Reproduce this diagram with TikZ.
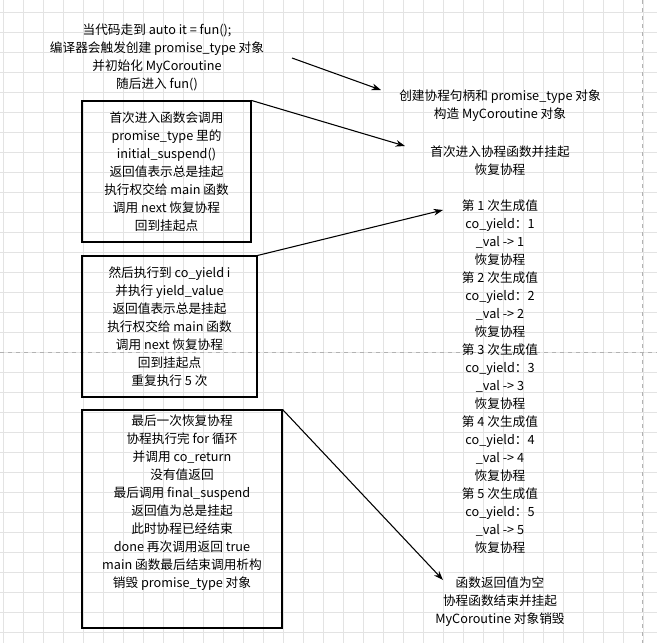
\documentclass[tikz,border=0pt]{standalone}
\usepackage{fontspec}
\setmainfont{Noto Sans CJK SC}
\usetikzlibrary{arrows.meta}
\tikzset{
    note/.style = {align=center,font=\fontsize{9.5}{13.5}\selectfont,text=black,inner sep=0pt},
    box/.style = {draw=black, thick, align=center,font=\fontsize{9.5}{13.5}\selectfont,text=black,inner sep=0pt},
    edgen/.style = {-{Stealth[length=7pt,width=5pt]},thick,black}, % flow
    gridl/.style = {gray!22,line width=0.4pt},
    pagebr/.style = {gray!60,dashed,line width=0.5pt}
}

\begin{document}
\begin{tikzpicture}[x=0.75pt,y=-0.75pt]
  \useasboundingbox (0,0) rectangle (657,643);
  \foreach \gx in {3,23,...,643} \draw[gridl] (\gx,0) -- (\gx,643);
  \foreach \gy in {12,32,...,643} \draw[gridl] (0,\gy) -- (657,\gy);
  \draw[pagebr] (0,352) -- (657,352);
  \draw[pagebr] (642,0) -- (642,643);

  \node[note] (start) at (157,57) {当代码走到 auto it = fun();\\编译器会触发创建 promise\_type 对象\\并初始化 MyCoroutine\\随后进入 fun()};
  \node[box, minimum width=126.75pt, minimum height=105.75pt] (first) at (166.5,171.5)
    {首次进入函数会调用\\promise\_type 里的\\initial\_suspend()\\返回值表示总是挂起\\执行权交给 main 函数\\调用 next 恢复协程\\回到挂起点};
  \node[box, minimum width=131.25pt, minimum height=105.75pt] (yield) at (169.5,326.5)
    {然后执行到 co\_yield i\\并执行 yield\_value\\返回值表示总是挂起\\执行权交给 main 函数\\调用 next 恢复协程\\回到挂起点\\重复执行 5 次};
  \node[box, minimum width=150pt, minimum height=163.5pt] (last) at (182,519)
    {最后一次恢复协程\\协程执行完 for 循环\\并调用 co\_return\\没有值返回\\最后调用 final\_suspend\\返回值为总是挂起\\此时协程已经结束\\done 再次调用返回 true\\main 函数最后结束调用析构\\销毁 promise\_type 对象\\[13.5pt]};

  \node[note] (create) at (500,106) {创建协程句柄和 promise\_type 对象\\构造 MyCoroutine 对象};
  \node[note] (enter) at (500,161) {首次进入协程函数并挂起\\恢复协程};
  \node[note] (loop) at (500,377) {第 1 次生成值\\co\_yield：1\\\_val -> 1\\恢复协程\\第 2 次生成值\\co\_yield：2\\\_val -> 2\\恢复协程\\第 3 次生成值\\co\_yield：3\\\_val -> 3\\恢复协程\\第 4 次生成值\\co\_yield：4\\\_val -> 4\\恢复协程\\第 5 次生成值\\co\_yield：5\\\_val -> 5\\恢复协程};
  \node[note] (done) at (500,602) {函数返回值为空\\协程函数结束并挂起\\MyCoroutine 对象销毁};

  \coordinate (a1) at (381,90);
  \coordinate (a2) at (405,146);
  \coordinate (a3) at (443,210);
  \coordinate (a4) at (443,580);
  \draw[edgen] (292,58) -- (a1);
  \draw[edgen] (first.north east) -- (a2);
  \draw[edgen] (yield.north east) -- (a3);
  \draw[edgen] (last.north east) -- (a4);
\end{tikzpicture}
\end{document}
